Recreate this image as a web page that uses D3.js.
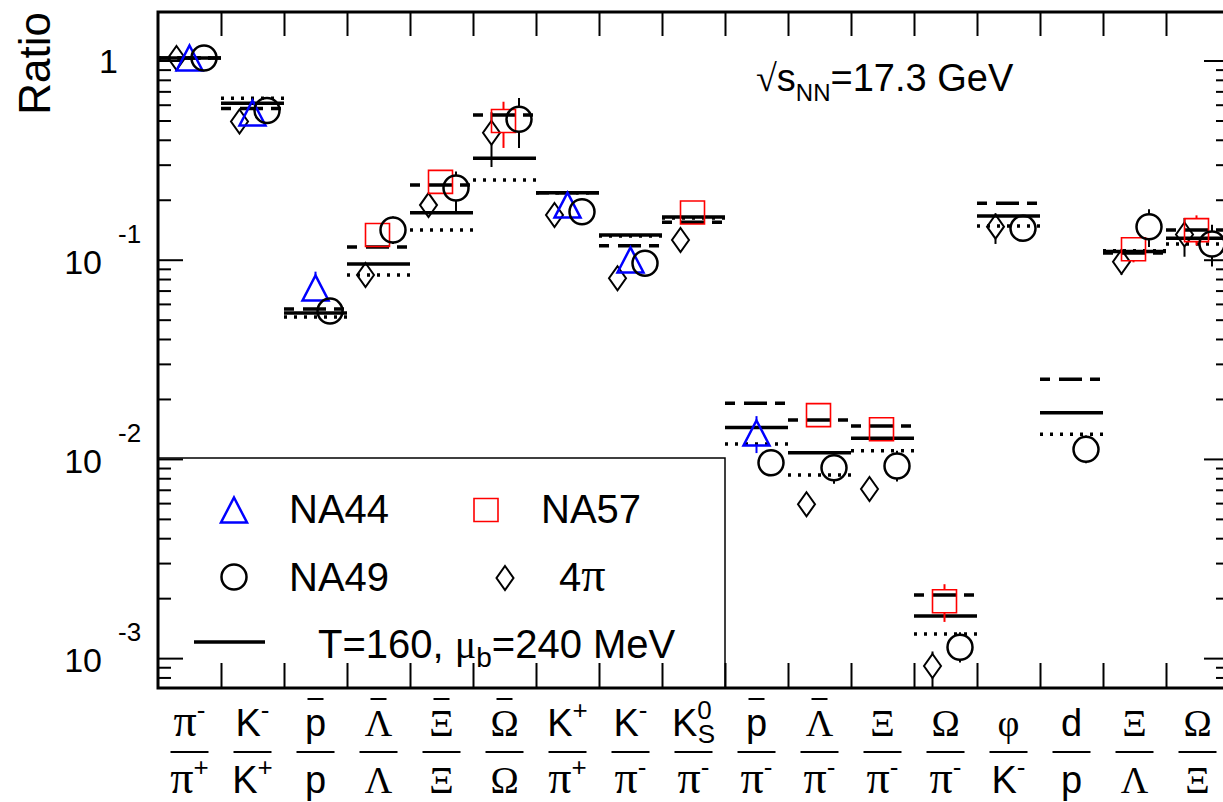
<!DOCTYPE html>
<html>
<head>
<meta charset="utf-8">
<script src="https://cdn.jsdelivr.net/npm/d3@7"></script>
<style>
html, body { margin: 0; padding: 0; background: #fff; }
svg { display: block; font-family: "Liberation Sans", Arial, sans-serif; }
</style>
</head>
<body>
<svg id="chart" width="1223" height="802"></svg>
<script>
// ratio labels: "~" = overline, "^" = superscript, "_" = subscript
var numerators   = ['π^-', 'K^-', '~p', '~Λ', '~Ξ', '~Ω', 'K^+', 'K^-', 'K^0_S', '~p', '~Λ', 'Ξ', 'Ω', 'φ', 'd', 'Ξ', 'Ω'];
var denominators = ['π^+', 'K^+', 'p', 'Λ', 'Ξ', 'Ω', 'π^+', 'π^-', 'π^-', 'π^-', 'π^-', 'π^-', 'π^-', 'K^-', 'p', 'Λ', 'Ξ'];

// thermal model values (solid = T=160, mu_b=240 MeV; dashed/dotted = neighbouring parameter sets)
var modelSolid  = [1.03, 0.610, 0.0540, 0.0951, 0.172, 0.323, 0.217, 0.133, 0.164, 0.0144, 0.01074, 0.01269, 0.001626, 0.1657, 0.01706, 0.110, 0.128];
var modelDashed = [1.03, 0.575, 0.0566, 0.116, 0.237, 0.532, 0.217, 0.1175, 0.154, 0.01902, 0.01568, 0.01463, 0.002074, 0.1919, 0.0251, 0.108, 0.141];
var modelDotted = [1.03, 0.646, 0.0516, 0.0838, 0.141, 0.251, 0.217, 0.1317, 0.162, 0.01188, 0.0083, 0.0110, 0.00132, 0.1476, 0.0133, 0.111, 0.120];

// measurements: [column, value, error low, error high]
var na44 = [[0, 1.03, 1.0, 1.06], [1, 0.545, 0.52, 0.57], [2, 0.0722, 0.0627, 0.0871],
  [6, 0.188, 0.18, 0.196], [7, 0.0997, 0.095, 0.105], [9, 0.0135, 0.0107, 0.0164]];
var na57 = [[3, 0.133, 0.125, 0.141], [4, 0.246, 0.236, 0.258], [5, 0.497, 0.364, 0.621],
  [8, 0.1726, 0.168, 0.177], [10, 0.0166, 0.0157, 0.0176], [11, 0.01408, 0.0133, 0.0149],
  [12, 0.00193, 0.00152, 0.00235], [15, 0.1128, 0.097, 0.13], [16, 0.1408, 0.118, 0.167]];
var na49 = [[0, 1.03, 1.0, 1.06], [1, 0.561, 0.54, 0.58], [2, 0.0552, 0.050, 0.061],
  [3, 0.141, 0.12, 0.165], [4, 0.229, 0.174, 0.277], [5, 0.507, 0.364, 0.648],
  [6, 0.174, 0.168, 0.18], [7, 0.096, 0.092, 0.10], [9, 0.00957, 0.0082, 0.011],
  [10, 0.00903, 0.0075, 0.0105], [11, 0.00921, 0.0077, 0.011], [12, 0.001133, 0.00095, 0.00135],
  [13, 0.1437, 0.138, 0.15], [14, 0.01117, 0.0095, 0.0131], [15, 0.1465, 0.116, 0.179],
  [16, 0.120, 0.0925, 0.15]];
var fourPi = [[0, 1.03, 1.0, 1.06], [1, 0.494, 0.48, 0.51], [3, 0.0838, 0.0733, 0.0958],
  [4, 0.188, 0.175, 0.20], [5, 0.434, 0.292, 0.55], [6, 0.1676, 0.16, 0.175],
  [7, 0.0807, 0.077, 0.085], [8, 0.1256, 0.115, 0.135], [10, 0.00592, 0.0057, 0.0062],
  [11, 0.00706, 0.0068, 0.0073], [12, 0.000913, 0.0007, 0.00108], [13, 0.1465, 0.12, 0.171],
  [15, 0.0977, 0.084, 0.108], [16, 0.1338, 0.1035, 0.162]];

var yTickLabels = [{v: 1, base: '1', exp: ''}, {v: 0.1, base: '10', exp: '-1'},
  {v: 0.01, base: '10', exp: '-2'}, {v: 0.001, base: '10', exp: '-3'}];

var GREEK = 'πΛΞΩφμ';
var SERIF = '"Liberation Serif", "DejaVu Serif", serif';

var svg = d3.select('#chart');
var plotL = 158, plotR = 1229, plotT = 12, plotB = 688;

var x = d3.scaleLinear().domain([0, 17]).range([plotL, plotR]);
var y = d3.scaleLog().domain([7.08e-4, 1.752]).range([plotB, plotT]);

var yMajor = [0.001, 0.01, 0.1, 1];
var yMinor = y.ticks().filter(function(v) { return yMajor.indexOf(v) < 0; });
var xTicks = d3.range(1, 17);

// axes (ticks point inward, like ROOT)
function styleAxis(g) {
  g.select('.domain').remove();
  g.selectAll('.tick line').attr('stroke', '#000').attr('stroke-width', 2);
}
svg.append('g').attr('transform', 'translate(' + plotL + ',0)')
  .call(d3.axisLeft(y).tickValues(yMajor).tickSize(-25).tickFormat('')).call(styleAxis);
svg.append('g').attr('transform', 'translate(' + plotL + ',0)')
  .call(d3.axisLeft(y).tickValues(yMinor).tickSize(-13).tickFormat('')).call(styleAxis);
svg.append('g').attr('transform', 'translate(' + plotR + ',0)')
  .call(d3.axisRight(y).tickValues(yMajor).tickSize(-25).tickFormat('')).call(styleAxis);
svg.append('g').attr('transform', 'translate(' + plotR + ',0)')
  .call(d3.axisRight(y).tickValues(yMinor).tickSize(-13).tickFormat('')).call(styleAxis);
svg.append('g').attr('transform', 'translate(0,' + plotT + ')')
  .call(d3.axisTop(x).tickValues(xTicks).tickSize(-24).tickFormat('')).call(styleAxis);
svg.append('g').attr('transform', 'translate(0,' + plotB + ')')
  .call(d3.axisBottom(x).tickValues(xTicks).tickSize(-25).tickFormat('')).call(styleAxis);

svg.append('rect')
  .attr('x', plotL).attr('y', plotT)
  .attr('width', plotR - plotL).attr('height', plotB - plotT)
  .attr('fill', 'none').attr('stroke', '#000').attr('stroke-width', 3);

// y tick labels
var yl = svg.append('g').style('font-size', '34px');
yTickLabels.forEach(function(t) {
  if (!t.exp) {
    yl.append('text').attr('x', 118).attr('y', y(t.v) + 12)
      .attr('text-anchor', 'end').text(t.base);
  } else {
    yl.append('text').attr('x', 102).attr('y', y(t.v) + 14)
      .attr('text-anchor', 'end').text(t.base);
    yl.append('text').attr('x', 118).attr('y', y(t.v) - 17)
      .style('font-size', '26px').text(t.exp);
  }
});

svg.append('text')
  .attr('transform', 'translate(50,' + plotT + ') rotate(-90)')
  .attr('text-anchor', 'end')
  .style('font-size', '44px')
  .text('Ratio');

// x category labels (fractions)
function drawRatioPart(g, s, cx, baseline) {
  var bar = s[0] === '~';
  if (bar) s = s.slice(1);
  var base = s[0];
  var rest = s.slice(1);
  var sup = rest.match(/\^([^_]+)/);
  var sub = rest.match(/_(.+)/);
  var t = g.append('text').attr('x', cx).attr('y', baseline)
    .attr('text-anchor', 'middle').style('font-size', '38px');
  var b = t.append('tspan').text(base);
  if (GREEK.indexOf(base) >= 0) b.style('font-family', SERIF);
  if (base === 'π') b.style('font-size', '46px');
  if (sup) t.append('tspan').attr('dy', -17).style('font-size', '26px').text(sup[1]);
  if (sub) t.append('tspan').attr('dx', -14).attr('dy', 24).style('font-size', '26px').text(sub[1]);
  if (bar) {
    g.append('line').attr('x1', cx - 8).attr('x2', cx + 8)
      .attr('y1', 699).attr('y2', 699)
      .attr('stroke', '#000').attr('stroke-width', 2);
  }
}
var xl = svg.append('g');
numerators.forEach(function(n, i) {
  var cx = x(i + 0.5);
  drawRatioPart(xl, n, cx, 736);
  drawRatioPart(xl, denominators[i], cx, 793);
  xl.append('line').attr('x1', cx - 19).attr('x2', cx + 19)
    .attr('y1', 752).attr('y2', 752)
    .attr('stroke', '#000').attr('stroke-width', 2);
});

// model lines
var plot = svg.append('g');
function drawModel(vals, dash) {
  plot.selectAll(null).data(vals).enter().append('line')
    .attr('x1', function(d, i) { return x(i); })
    .attr('x2', function(d, i) { return x(i + 1); })
    .attr('y1', function(d) { return y(d); })
    .attr('y2', function(d) { return y(d); })
    .attr('stroke', '#000').attr('stroke-width', 3.5)
    .attr('stroke-dasharray', dash);
}
drawModel(modelDotted, '3,7');
drawModel(modelDashed, '10,9,23,8,10,3');
drawModel(modelSolid, null);

// markers
var shapes = {
  triangle: {half: 12.5, path: function(cx, cy) {
    return 'M' + cx + ',' + (cy - 12.5) + 'L' + (cx + 13) + ',' + (cy + 12.5) + 'L' + (cx - 13) + ',' + (cy + 12.5) + 'Z'; }},
  square: {half: 11.5, path: function(cx, cy) {
    return 'M' + (cx - 12) + ',' + (cy - 11.5) + 'h24v23h-24Z'; }},
  circle: {half: 12.5, path: function(cx, cy) {
    return 'M' + (cx + 12.5) + ',' + cy + 'A12.5,12.5 0 1,1 ' + (cx - 12.5) + ',' + cy + 'A12.5,12.5 0 1,1 ' + (cx + 12.5) + ',' + cy; }},
  diamond: {half: 12, path: function(cx, cy) {
    return 'M' + cx + ',' + (cy - 12) + 'L' + (cx + 8.5) + ',' + cy + 'L' + cx + ',' + (cy + 12) + 'L' + (cx - 8.5) + ',' + cy + 'Z'; }}
};

function drawSeries(data, shape, color, offset, width) {
  var sh = shapes[shape];
  var g = plot.append('g').attr('stroke', color).attr('fill', 'none').attr('stroke-width', width);
  data.forEach(function(d) {
    var cx = x(d[0] + 0.5) + offset;
    var cy = y(d[1]);
    var yHi = y(d[3]), yLo = y(d[2]);
    if (yHi < cy - sh.half) {
      g.append('line').attr('x1', cx).attr('x2', cx).attr('y1', yHi).attr('y2', cy - sh.half).attr('stroke-width', 2);
    }
    if (yLo > cy + sh.half) {
      g.append('line').attr('x1', cx).attr('x2', cx).attr('y1', cy + sh.half).attr('y2', yLo).attr('stroke-width', 2);
    }
    g.append('path').attr('d', sh.path(cx, cy));
  });
}
drawSeries(fourPi, 'diamond', '#000', -13, 2);
drawSeries(na44, 'triangle', '#0000ff', 0, 2.5);
drawSeries(na57, 'square', '#ff0000', -1, 1.6);
drawSeries(na49, 'circle', '#000', 14.5, 2.5);

// energy annotation
var ann = svg.append('text').attr('x', 756).attr('y', 91).style('font-size', '38px');
ann.append('tspan').style('font-family', SERIF).text('√');
ann.append('tspan').text('s');
ann.append('tspan').attr('dy', 10).style('font-size', '24px').text('NN');
ann.append('tspan').attr('dy', -10).text('=17.3 GeV');

// legend
var lg = svg.append('g');
lg.append('rect').attr('x', plotL).attr('y', 458)
  .attr('width', 725 - plotL).attr('height', plotB - 458)
  .attr('fill', 'none').attr('stroke', '#000').attr('stroke-width', 1.5);
var lgMarks = lg.append('g').attr('fill', 'none');
lgMarks.append('path').attr('d', shapes.triangle.path(234, 510)).attr('stroke', '#0000ff').attr('stroke-width', 2.5);
lgMarks.append('path').attr('d', shapes.square.path(486, 510)).attr('stroke', '#ff0000').attr('stroke-width', 1.6);
lgMarks.append('path').attr('d', shapes.circle.path(234, 577)).attr('stroke', '#000').attr('stroke-width', 2.5);
lgMarks.append('path').attr('d', shapes.diamond.path(505, 578)).attr('stroke', '#000').attr('stroke-width', 2);
lgMarks.append('line').attr('x1', 194).attr('x2', 265).attr('y1', 642).attr('y2', 642)
  .attr('stroke', '#000').attr('stroke-width', 3.5);

var lgText = lg.append('g').style('font-size', '40px');
lgText.append('text').attr('x', 289).attr('y', 523).text('NA44');
lgText.append('text').attr('x', 541).attr('y', 523).text('NA57');
lgText.append('text').attr('x', 289).attr('y', 591).text('NA49');
var fp = lgText.append('text').attr('x', 559).attr('y', 591);
fp.append('tspan').text('4');
fp.append('tspan').style('font-family', SERIF).style('font-size', '48px').text('π');
var tm = lgText.append('text').attr('x', 318).attr('y', 658);
tm.append('tspan').text('T=160, ');
tm.append('tspan').style('font-family', SERIF).text('μ');
tm.append('tspan').attr('dy', 9).style('font-size', '28px').text('b');
tm.append('tspan').attr('dy', -9).text('=240 MeV');
</script>
</body>
</html>
